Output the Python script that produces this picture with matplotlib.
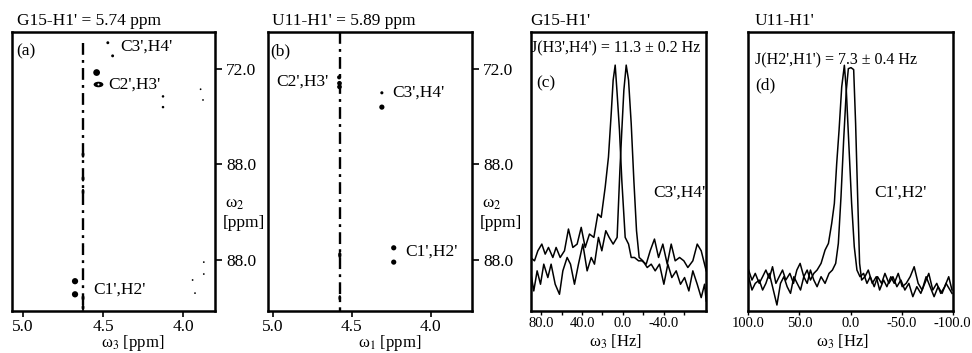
import matplotlib
matplotlib.use('Agg')
import matplotlib.pyplot as plt
from matplotlib.markers import MarkerStyle
from matplotlib.transforms import Affine2D

plt.rcParams['font.family'] = ['Liberation Serif', 'DejaVu Serif']
plt.rcParams['mathtext.fontset'] = 'stix'

W, H = 972, 353

# ---------------- data ----------------
titles = ["G15-H1' = 5.74 ppm", "U11-H1' = 5.89 ppm", "G15-H1'", "U11-H1'"]
panel_tags = ["(a)", "(b)", "(c)", "(d)"]

ppm_ticks = [5.0, 4.5, 4.0]
ppm_tick_labels = ["5.0", "4.5", "4.0"]
w2_ticks = [72.0, 80.0, 88.0]
w2_tick_labels = ["72.0", "88.0", "88.0"]

# panel (a) cross peaks: w3 (ppm), w2 (ppm), relative spot size
a_w3 = [4.47, 4.44, 4.54, 4.125, 4.125, 3.89, 3.875, 4.675, 4.675, 3.94, 3.925, 3.87, 3.87]
a_w2 = [69.8, 70.9, 72.3, 74.3, 75.2, 73.7, 74.6, 89.8, 90.9, 89.7, 90.8, 88.2, 89.2]
a_int = [2.8, 2.8, 6.5, 2.4, 2.4, 1.7, 1.7, 6.0, 6.0, 1.7, 1.7, 1.7, 1.7]
a_ring_w3, a_ring_w2 = 4.53, 73.3           # ring-shaped C2',H3' spot
a_ridge = 4.625
a_ridge_w2 = [79.2, 81.2, 82.3, 86.9, 91.2, 92.0]
a_ridge_int = [3.5, 3.5, 3.5, 2.5, 3.5, 3.5]
a_labels = ["C3',H4'", "C2',H3'", "C1',H2'"]
a_label_w3 = [4.394, 4.469, 4.5625]
a_label_w2 = [70.16, 73.34, 90.5]

# panel (b)
b_w3 = [4.58, 4.578, 4.578, 4.31, 4.31, 4.235, 4.235]
b_w2 = [72.7, 73.2, 73.5, 74.0, 75.2, 87.0, 88.2]
b_int = [4.0, 4.5, 4.5, 3.0, 5.0, 5.0, 5.0]
b_ridge = 4.576
b_ridge_w2 = [87.6, 91.2]
b_ridge_int = [4.0, 3.5]
b_labels = ["C2',H3'", "C3',H4'", "C1',H2'"]
b_label_w3 = [4.975, 4.247, 4.165]
b_label_w2 = [73.09, 74.0, 87.3]

# panel (c) 1D traces (Hz, intensity)
c1_hz = [90.5, 86.6, 83.3, 79.4, 76.1, 72.9, 68.6, 65.4, 61.4, 57.2, 53.3, 49.0, 44.8, 40.8,
         36.9, 32.7, 28.4, 24.5, 21.2, 17.3, 14.1, 11.4, 9.5, 7.5, 5.6, 3.3, 1.0, -2.3, -5.6,
         -8.2, -11.4, -15.4, -18.6, -22.9, -26.8, -31.0, -35.0, -39.2, -43.5, -47.4, -51.3,
         -55.6, -59.8, -63.7, -68.6, -72.9, -76.8, -81.7]
c1_int = [16.0, 15.0, 18.0, 20.0, 17.0, 19.0, 16.0, 19.0, 16.0, 18.0, 24.5, 19.0, 20.0, 25.0,
          19.0, 23.0, 22.0, 29.0, 28.0, 37.0, 46.0, 59.0, 69.0, 73.5, 65.0, 54.0, 39.0, 22.0,
          20.0, 16.0, 16.0, 15.0, 15.0, 14.0, 18.0, 21.5, 16.0, 20.0, 14.0, 20.0, 15.0, 16.0,
          15.0, 13.0, 15.0, 20.0, 18.0, 12.0]
c2_hz = [90.5, 87.3, 84.0, 80.7, 77.5, 73.5, 70.3, 66.3, 62.1, 58.8, 54.6, 51.3, 47.4, 43.5,
         39.2, 35.0, 31.0, 27.8, 23.9, 20.6, 16.7, 13.4, 9.5, 5.6, 2.9, 1.0, -1.0, -3.3, -5.6,
         -8.2, -10.8, -13.4, -16.0, -19.6, -23.9, -27.8, -31.7, -35.9, -40.2, -44.1, -48.0,
         -52.3, -56.5, -60.5, -64.7, -68.6, -72.9, -76.8, -80.1, -81.7]
c2_int = [12.0, 6.0, 12.0, 8.0, 14.0, 10.0, 14.0, 8.0, 5.0, 12.0, 16.0, 14.0, 8.0, 14.0,
          20.0, 12.0, 16.0, 14.0, 22.0, 18.0, 24.0, 22.0, 20.0, 22.0, 42.0, 54.0, 66.0, 73.5,
          69.0, 56.0, 39.0, 24.0, 16.0, 15.0, 13.0, 14.0, 12.0, 14.0, 8.0, 14.0, 10.0, 12.0,
          8.0, 10.0, 6.0, 12.0, 8.0, 4.0, 8.0, 3.0]
c_ticks = [80, 40, 0, -40]
c_tick_labels = ["80.0", "40.0", "0.0", "-40.0"]
c_minor = [60, 20, -20, -60]
c_J = "J(H3',H4') = 11.3 \u00b1 0.2 Hz"
c_label, c_label_hz, c_label_int = "C3',H4'", -29.4, 35.5

# panel (d)
d1_hz = [99.7, 96.4, 93.2, 89.3, 86.0, 82.8, 79.5, 76.3, 73.0, 69.8, 66.5, 63.3, 59.3, 55.8,
         52.5, 49.3, 45.7, 42.4, 39.2, 35.9, 32.7, 28.8, 24.9, 21.6, 18.4, 15.8, 13.5, 11.2,
         8.6, 6.0, 4.1, 1.5, -1.1, -3.7, -6.3, -9.3, -12.8, -16.1, -19.3, -23.2, -26.5, -30.4,
         -33.7, -37.6, -41.5, -45.4, -49.3, -53.2, -57.1, -61.0, -64.9, -68.8, -72.7, -76.6,
         -80.5, -84.4, -88.3, -92.2, -96.1, -99.3]
d1_int = [12.3, 9.3, 11.3, 8.3, 10.3, 12.3, 9.8, 13.3, 8.3, 10.3, 12.3, 9.3, 11.3, 8.3, 12.3,
          14.3, 10.3, 12.3, 9.3, 11.3, 12.3, 14.3, 18.3, 20.3, 26.3, 32.3, 44.3, 54.3, 67.3,
          73.8, 66.3, 49.3, 32.3, 19.3, 12.3, 10.3, 11.3, 8.3, 10.3, 7.3, 10.3, 8.3, 11.3, 8.3,
          10.3, 7.3, 9.3, 6.3, 8.3, 4.3, 7.3, 5.3, 8.3, 11.3, 6.3, 8.3, 5.3, 7.3, 10.3, 6.3]
d2_hz = [99.7, 96.4, 93.2, 89.3, 86.0, 82.8, 79.5, 76.3, 72.0, 68.5, 65.2, 62.0, 58.7, 55.4,
         52.2, 48.9, 45.7, 42.4, 39.2, 35.9, 32.7, 28.8, 24.9, 21.0, 17.7, 14.5, 11.9, 9.3,
         6.7, 4.1, 2.1, -0.5, -3.1, -5.0, -7.0, -8.9, -10.9, -14.1, -17.4, -21.3, -25.2, -28.5,
         -32.4, -35.6, -39.5, -42.8, -46.7, -50.6, -54.5, -58.4, -62.3, -66.2, -70.1, -74.0,
         -77.9, -81.8, -85.7, -89.6, -93.5, -97.4, -99.3]
d2_int = [10.3, 6.3, 8.3, 9.3, 6.3, 8.3, 11.3, 7.3, 1.8, 8.3, 10.3, 7.3, 5.3, 10.3, 8.3, 6.3,
          10.3, 8.3, 12.3, 9.3, 7.3, 10.3, 8.3, 11.3, 12.3, 14.3, 20.3, 34.3, 51.3, 66.3, 72.8,
          73.1, 72.5, 56.3, 34.3, 14.3, 9.3, 10.3, 12.3, 8.3, 10.3, 6.3, 9.3, 7.3, 10.3, 8.3,
          11.3, 7.3, 8.3, 10.3, 13.3, 8.3, 6.3, 10.3, 7.3, 4.3, 7.3, 5.3, 8.3, 6.3, 5.3]
d_ticks = [100, 50, 0, -50, -100]
d_tick_labels = ["100.0", "50.0", "0.0", "-50.0", "-100.0"]
d_J = "J(H2',H1') = 7.3 \u00b1 0.4 Hz"
d_label, d_label_hz, d_label_int = "C1',H2'", -23.2, 35.5

# ---------------- figure ----------------
fig = plt.figure(figsize=(W / 100, H / 100), dpi=100)


def rect(x0, x1, y0=32, y1=311):
    return [x0 / W, 1 - y1 / H, (x1 - x0) / W, (y1 - y0) / H]


def fpx(x, y):
    return x / W, 1 - y / H


FS = 12.5
axa = fig.add_axes(rect(12, 215))
axb = fig.add_axes(rect(268, 472))
axc = fig.add_axes(rect(530.5, 706))
axd = fig.add_axes(rect(748, 953))

for ax in (axa, axb, axc, axd):
    for s in ax.spines.values():
        s.set_linewidth(1.8)


def spots(ax, xs, ys, sizes, **kw):
    ax.scatter(xs, ys, s=[(v * 0.75) ** 2 for v in sizes], color='k', linewidths=0,
               zorder=3, **kw)


def setup_2d(ax, xlim, ridge, ridge_top):
    ax.set_xlim(*xlim)
    ax.set_ylim(92.3, 68.9)
    ax.set_xticks(ppm_ticks)
    ax.set_xticklabels(ppm_tick_labels, fontsize=FS)
    ax.yaxis.tick_right()
    ax.set_yticks(w2_ticks)
    ax.set_yticklabels(w2_tick_labels, fontsize=FS)
    ax.tick_params(axis='y', direction='out', length=5, width=1.2, pad=3)
    ax.tick_params(axis='x', direction='out', length=4, width=1.2, pad=1.5)
    ax.plot([ridge, ridge], [ridge_top, 92.3], color='k', lw=1.7,
            linestyle=(0, (5, 2.2, 1.2, 2.2)), zorder=2)


# panel a
setup_2d(axa, (5.069, 3.80), a_ridge, 69.8)
spots(axa, a_w3, a_w2, a_int)
ell = MarkerStyle('o', transform=Affine2D().scale(1.5, 0.85))
axa.scatter([a_ring_w3], [a_ring_w2], s=22, marker=ell, color='k', linewidths=0, zorder=3)
axa.scatter([a_ring_w3], [a_ring_w2], s=2, marker='o', color='white', linewidths=0, zorder=4)
spots(axa, [a_ridge] * len(a_ridge_w2), a_ridge_w2, a_ridge_int,
      marker=MarkerStyle('o', transform=Affine2D().scale(0.8, 1.6)))
for t, x, y in zip(a_labels, a_label_w3, a_label_w2):
    axa.text(x, y, t, fontsize=FS, va='center', ha='left')
axa.text(0.02, 0.93, panel_tags[0], transform=axa.transAxes, fontsize=FS, va='center')

# panel b
setup_2d(axb, (5.03, 3.74), b_ridge, 68.9)
spots(axb, b_w3, b_w2, b_int)
spots(axb, [b_ridge] * len(b_ridge_w2), b_ridge_w2, b_ridge_int,
      marker=MarkerStyle('o', transform=Affine2D().scale(0.8, 1.5)))
for t, x, y in zip(b_labels, b_label_w3, b_label_w2):
    axb.text(x, y, t, fontsize=FS, va='center', ha='left')
axb.text(0.01, 0.93, panel_tags[1], transform=axb.transAxes, fontsize=FS, va='center')

# panel c
axc.plot(c1_hz, c1_int, color='k', lw=1.1)
axc.plot(c2_hz, c2_int, color='k', lw=1.1)
axc.set_xlim(90.5, -81.5)
axc.set_ylim(0, 83.4)
axc.set_yticks([])
axc.set_xticks(c_ticks)
axc.set_xticklabels(c_tick_labels, fontsize=10.5)
axc.set_xticks(c_minor, minor=True)
axc.tick_params(axis='x', which='both', direction='out', length=3, width=1, pad=1.5)
axc.text(0.005, 0.943, c_J, transform=axc.transAxes, fontsize=11.5, va='center')
axc.text(0.03, 0.817, panel_tags[2], transform=axc.transAxes, fontsize=FS, va='center')
axc.text(c_label_hz, c_label_int, c_label, fontsize=FS, va='center', ha='left')

# panel d
axd.plot(d1_hz, d1_int, color='k', lw=1.1)
axd.plot(d2_hz, d2_int, color='k', lw=1.1)
axd.set_xlim(100.3, -100.3)
axd.set_ylim(0, 83.8)
axd.set_yticks([])
axd.set_xticks(d_ticks)
axd.set_xticklabels(d_tick_labels, fontsize=10.5)
axd.tick_params(axis='x', direction='out', length=3, width=1, pad=1.5)
axd.text(0.035, 0.9, d_J, transform=axd.transAxes, fontsize=11.5, va='center')
axd.text(0.035, 0.808, panel_tags[3], transform=axd.transAxes, fontsize=FS, va='center')
axd.text(d_label_hz, d_label_int, d_label, fontsize=FS, va='center', ha='left')

# titles
for txt, x in zip(titles, [17, 272, 530, 755]):
    fig.text(*fpx(x, 21), txt, fontsize=FS, va='center', ha='left')

# axis labels
for x, sub in [(133, '3'), (390, '1')]:
    fig.text(*fpx(x, 343), '\u03c9$_%s$ [ppm]' % sub, fontsize=12, va='center', ha='center')
for x in (616, 843):
    fig.text(*fpx(x, 342), '\u03c9$_3$ [Hz]', fontsize=12, va='center', ha='center')
for x in (225, 482):
    fig.text(*fpx(x, 204), '\u03c9$_2$', fontsize=FS, va='center', ha='left')
    fig.text(*fpx(x - 2, 223), '[ppm]', fontsize=FS, va='center', ha='left')

fig.savefig('out.png', dpi=100)
